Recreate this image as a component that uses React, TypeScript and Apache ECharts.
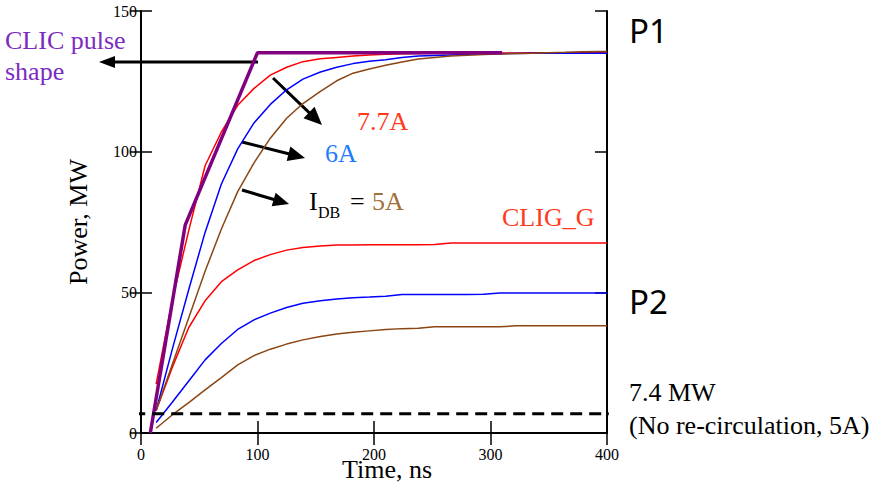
import React, { useEffect, useRef } from "react";
import * as echarts from "echarts";

// Time axis samples (ns)
const times = [13, 27, 41, 55, 69, 83, 97, 111, 125, 139, 154, 168, 182, 196, 210, 224, 238, 252, 266, 280, 294, 308, 322, 336, 350, 364, 378, 392, 400];

// P1 (output power) curves, MW
const redP1 = [17.4, 47.5, 72, 95, 107, 116.5, 122.5, 127.2, 130, 132, 133, 133.5, 134, 134.4, 134.6, 134.8, 134.9, 135, 135, 135, 135.1, 135.1, 135.1, 135.2, 135.2, 135.2, 135.2, 135.2, 135.2];
const blueP1 = [8, 30, 51, 71.3, 88.5, 101, 110.2, 116.8, 122, 125.8, 128.3, 130, 131.3, 132.1, 132.7, 133.5, 134, 134.2, 134.4, 134.6, 134.7, 134.8, 134.9, 135, 135, 135, 135, 135, 135];
const brownP1 = [8, 24.5, 41, 57.5, 72.5, 85.8, 96, 104.8, 111.9, 117.1, 121.4, 125.2, 127.9, 129.4, 130.7, 131.9, 132.9, 133.5, 134, 134.3, 134.5, 134.7, 134.9, 135, 135.2, 135.3, 135.5, 135.6, 135.6];

// P2 curves, MW
const redP2 = [8, 23.5, 37.5, 47, 53.8, 58, 61.3, 63.4, 65, 65.9, 66.5, 66.8, 66.8, 66.9, 66.9, 66.9, 66.9, 67, 67.5, 67.5, 67.5, 67.5, 67.5, 67.5, 67.5, 67.5, 67.5, 67.5, 67.5];
const blueP2 = [3.7, 11, 18.5, 26, 31.8, 36.8, 40.2, 42.6, 44.6, 46.1, 47, 47.6, 48.1, 48.3, 48.6, 49.2, 49.2, 49.2, 49.2, 49.2, 49.3, 49.8, 49.8, 49.8, 49.8, 49.8, 49.8, 49.8, 49.8];
const brownP2 = [1.7, 6.5, 10.8, 15.3, 19.7, 24.2, 27.5, 29.8, 31.6, 33.1, 34.3, 35.2, 35.8, 36.3, 36.8, 37.1, 37.2, 37.8, 37.8, 37.8, 37.8, 37.8, 38.1, 38.1, 38.1, 38.1, 38.1, 38.1, 38.1];

// CLIC pulse shape
const pulseT = [8, 38, 100, 310];
const pulseP = [0, 74, 135.2, 135.2];

// 7.4 MW threshold (no re-circulation)
const thrT = [-23, 421];
const thrP = [6.8, 6.8];

const SERIF = "Liberation Serif";

function pairs(xs: number[], ys: number[]) {
  return xs.map((x, i) => [x, ys[i]]);
}

function arrow(x1: number, y1: number, x2: number, y2: number, head: number, half: number, width: number) {
  const dx = x2 - x1;
  const dy = y2 - y1;
  const len = Math.sqrt(dx * dx + dy * dy);
  const ux = dx / len;
  const uy = dy / len;
  const bx = x2 - ux * head;
  const by = y2 - uy * head;
  const nx = -uy;
  const ny = ux;
  return [
    {
      type: "line",
      shape: { x1, y1, x2: bx + ux * 2, y2: by + uy * 2 },
      style: { stroke: "#000", lineWidth: width },
      silent: true,
    },
    {
      type: "polygon",
      shape: {
        points: [
          [x2, y2],
          [bx + nx * half, by + ny * half],
          [bx - nx * half, by - ny * half],
        ],
      },
      style: { fill: "#000" },
      silent: true,
    },
  ];
}

function txt(text: string, x: number, y: number, fill: string, fontSize: number, fontFamily: string = SERIF, align: string = "left") {
  return {
    type: "text",
    x,
    y,
    silent: true,
    style: {
      text,
      fill,
      fontSize,
      fontFamily,
      align,
      verticalAlign: "middle",
      textAlign: align,
      textVerticalAlign: "middle",
    },
  };
}

export default function App() {
  const ref = useRef<HTMLDivElement>(null);

  useEffect(() => {
    if (!ref.current) return;
    const chart = echarts.init(ref.current, undefined, { renderer: "svg", width: 888, height: 483 });

    const curve = (name: string, ys: number[], color: string, w = 1.5) => ({
      name,
      type: "line",
      data: pairs(times, ys),
      showSymbol: false,
      symbol: "none",
      lineStyle: { color, width: w },
      z: 3,
    });

    const option: any = {
      animation: false,
      backgroundColor: "#fff",
      grid: { left: 141, right: 281, top: 11, bottom: 50, containLabel: false, outerBoundsMode: "none" },
      xAxis: [
        {
          type: "value",
          min: 0,
          max: 400,
          interval: 100,
          position: "bottom",
          axisLine: { lineStyle: { color: "#000", width: 2 } },
          axisTick: { inside: true, length: 12, lineStyle: { color: "#000", width: 1.5 } },
          axisLabel: { color: "#000", fontFamily: SERIF, fontSize: 16, margin: 13 },
          splitLine: { show: false },
        },
        {
          type: "value",
          min: 0,
          max: 400,
          interval: 100,
          position: "top",
          axisLine: { lineStyle: { color: "#000", width: 2 } },
          axisTick: { inside: true, length: 12, lineStyle: { color: "#000", width: 1.5 } },
          axisLabel: { show: false },
          splitLine: { show: false },
        },
      ],
      yAxis: [
        {
          type: "value",
          min: 0,
          max: 150,
          interval: 50,
          position: "left",
          axisLine: { lineStyle: { color: "#000", width: 2 } },
          axisTick: { inside: true, length: 11, lineStyle: { color: "#000", width: 1.5 } },
          axisLabel: { color: "#000", fontFamily: SERIF, fontSize: 16, margin: 4, padding: [9, 0, 0, 0] },
          splitLine: { show: false },
          name: "Power, MW",
          nameLocation: "middle",
          nameGap: 50,
          nameTextStyle: { color: "#000", fontFamily: SERIF, fontSize: 26, padding: [0, 0, 0, 0] },
        },
        {
          type: "value",
          min: 0,
          max: 150,
          interval: 50,
          position: "left",
          axisLine: { show: false },
          axisTick: { inside: false, length: 11, lineStyle: { color: "#000", width: 1.5 } },
          axisLabel: { show: false },
          splitLine: { show: false },
        },
        {
          type: "value",
          min: 0,
          max: 150,
          interval: 50,
          position: "right",
          axisLine: { lineStyle: { color: "#000", width: 2 } },
          axisTick: { inside: true, length: 12, lineStyle: { color: "#000", width: 1.5 } },
          axisLabel: { show: false },
          splitLine: { show: false },
        },
      ],
      series: [
        curve("CLIG_G 7.7A P2", redP2, "#ff0000"),
        curve("6A P2", blueP2, "#0000ff"),
        curve("5A P2", brownP2, "#8b4513"),
        curve("7.7A P1", redP1, "#ff0000"),
        curve("6A P1", blueP1, "#0000ff"),
        curve("5A P1", brownP1, "#8b4513"),
        {
          name: "CLIC pulse shape",
          type: "line",
          data: pairs(pulseT, pulseP),
          showSymbol: false,
          symbol: "none",
          lineStyle: { color: "#800080", width: 3.5 },
          z: 4,
        },
        {
          name: "7.4 MW",
          type: "line",
          data: pairs(thrT, thrP),
          showSymbol: false,
          symbol: "none",
          clip: false,
          lineStyle: { color: "#000", width: 3, type: [12, 7] },
          z: 5,
        },
      ],
      graphic: [
        ...arrow(258, 62, 99, 62, 16, 6, 3),
        ...arrow(273, 78, 322, 125, 18, 8, 3),
        ...arrow(242, 142, 305, 158, 17, 7.5, 3),
        ...arrow(242, 190, 289, 204, 16, 7, 3),
        txt("Time, ns", 387, 469, "#000", 26, SERIF, "center"),
        txt("CLIC pulse", 5, 40, "#7b2cbf", 26),
        txt("shape", 5, 71, "#7b2cbf", 26),
        txt("7.7A", 357, 121, "#ff3a1a", 26),
        txt("6A", 325, 153, "#1f7bff", 26),
        txt("I", 309, 201, "#000", 26),
        txt("DB", 318, 212, "#000", 16),
        txt("=", 350, 201, "#000", 26),
        txt("5A", 372, 201, "#a0703a", 26),
        txt("CLIG_G", 502, 217, "#ff3a1a", 26),
        txt("P1", 629, 30, "#000", 33, "Noto Sans"),
        txt("P2", 629, 301, "#000", 33, "Noto Sans"),
        txt("7.4 MW", 629, 392, "#000", 26),
        txt("(No re-circulation, 5A)", 629, 425, "#000", 26),
      ],
    };

    chart.setOption(option);
    return () => chart.dispose();
  }, []);

  return (
    <div
      ref={ref}
      style={{ position: "fixed", left: 0, top: 0, width: 888, height: 483, background: "#fff" }}
    />
  );
}
